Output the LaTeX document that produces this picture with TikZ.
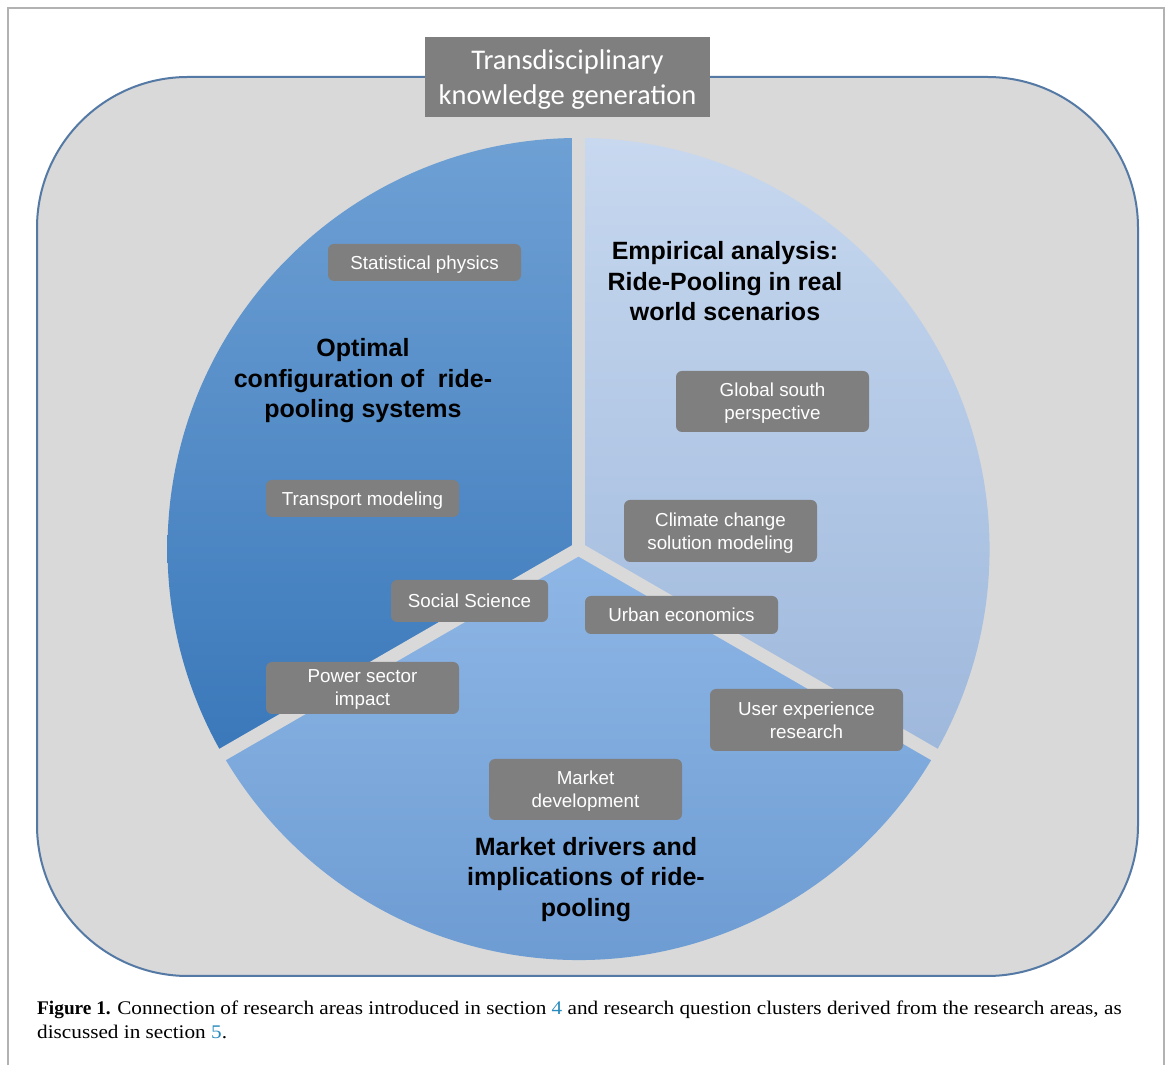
\documentclass[tikz,border=0pt]{standalone}
\usepackage{fontspec}
\usetikzlibrary{calc}
\setmainfont{Liberation Serif}
\newfontfamily\capreg[FakeStretch=1.10]{Liberation Serif}
\newfontfamily\arialf{Liberation Sans}
\newfontfamily\calibrif{Carlito}
\definecolor{framefill}{RGB}{217,217,217}
\definecolor{frameline}{RGB}{84,121,164}
\definecolor{pageline}{RGB}{178,178,178}
\definecolor{boxgray}{RGB}{127,127,127}
\definecolor{lefttop}{RGB}{110,160,212}
\definecolor{leftbot}{RGB}{58,120,186}
\definecolor{righttop}{RGB}{199,216,239}
\definecolor{rightbot}{RGB}{158,184,220}
\definecolor{bottop}{RGB}{143,183,230}
\definecolor{botbot}{RGB}{104,152,208}
\definecolor{linkblue}{RGB}{42,140,190}
\begin{document}
\begin{tikzpicture}[x=1pt,y=1pt,
  topic/.style={fill=boxgray, rounded corners=6pt, text=white,
    font=\arialf\fontsize{18.8}{23}\selectfont, align=center,
    inner sep=0pt, minimum width=193pt, text depth=0pt},
  heading/.style={text=black, align=center,
    font=\arialf\bfseries\fontsize{25}{30.5}\selectfont, inner sep=0pt},
  gap/.style={draw=framefill, line width=13pt},
  captxt/.style={anchor=base west, inner sep=0pt,
    font=\fontsize{19.3}{24}\selectfont}]
\useasboundingbox (0,0) rectangle (1169,1065);
\fill[white] (0,0) rectangle (1169,1065);
% page border
\draw[pageline, line width=1.5pt] (8,0) -- (8,1057) -- (1164,1057) -- (1164,0);
% outer frame
\draw[frameline, fill=framefill, line width=2pt, rounded corners=151pt]
  (37,89) rectangle (1138,988);
% pie
\coordinate (C) at (578.5,516);
\path[top color=lefttop, bottom color=leftbot]
  (C) -- ++(90:411) arc[start angle=90, end angle=210, radius=411] -- cycle;
\path[top color=righttop, bottom color=rightbot]
  (C) -- ++(-30:411) arc[start angle=-30, end angle=90, radius=411] -- cycle;
\path[top color=bottop, bottom color=botbot]
  (C) -- ++(210:411) arc[start angle=210, end angle=330, radius=411] -- cycle;
\coordinate (G1) at ($(C)+(90:425)$);
\coordinate (G2) at ($(C)+(210:425)$);
\coordinate (G3) at ($(C)+(330:425)$);
\draw[gap] (C) -- (G1);
\draw[gap] (C) -- (G2);
\draw[gap] (C) -- (G3);
% title
\node[fill=boxgray, minimum width=285pt, minimum height=80pt, inner sep=0pt,
  text=white, align=center, text depth=0pt,
  font=\calibrif\fontsize{28.5}{35}\selectfont]
  (title) at (567.5,988) {Transdisciplinary\\knowledge generation};
% headings
\node[heading] (h1) at (363,684) {Optimal\\configuration of\ \ ride-\\pooling systems};
\node[heading] (h2) at (725,783.5) {Empirical analysis:\\Ride-Pooling in real\\world scenarios};
\node[heading] (h3) at (586,185.5) {Market drivers and\\implications of ride-\\pooling};
% topic boxes
\node[topic, minimum height=37pt] (stat) at (424.5,802.5) {Statistical physics};
\node[topic, minimum height=37pt] (trans) at (362.5,566.5) {Transport modeling};
\node[topic, minimum height=42pt, minimum width=157pt] (soc) at (469.5,464) {Social Science};
\node[topic, minimum height=52pt] (pow) at (362.5,377) {Power sector\\impact};
\node[topic, minimum height=61pt] (glob) at (772.5,663.5) {Global south\\perspective};
\node[topic, minimum height=62pt] (clim) at (720.5,534) {Climate change\\solution modeling};
\node[topic, minimum height=38pt] (urb) at (681.5,450) {Urban economics};
\node[topic, minimum height=62pt] (user) at (806.5,345) {User experience\\research};
\node[topic, minimum height=61pt] (mark) at (585.5,275.5) {Market\\development};
% caption
\node[captxt] (cap1) at (37,51) {\textbf{Figure 1.} {\capreg Connection of research areas introduced in section \textcolor{linkblue}{4} and research question clusters derived from the research areas, as}};
\node[captxt] (cap2) at (37,27) {\capreg discussed in section \textcolor{linkblue}{5}.};
\end{tikzpicture}
\end{document}
